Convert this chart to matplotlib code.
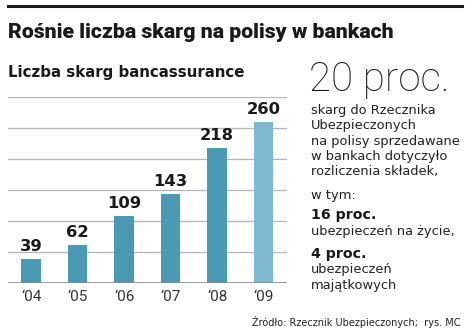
import numpy as np
import matplotlib
matplotlib.use("Agg")
import matplotlib.pyplot as plt
from matplotlib.lines import Line2D

years = ["‘04", "‘05", "‘06", "‘07", "‘08", "‘09"]
skargi = [39, 62, 109, 143, 218, 260]
bar_colors = ["#4a9ab4"] * 5 + ["#7db9cf"]

W, H = 468, 335
fig = plt.figure(figsize=(W / 100, H / 100), dpi=100)
fig.patch.set_facecolor("white")


def fx(x):
    return x / W


def fy(y):
    return 1 - y / H


def ptxt(x, y, s, **kw):
    fig.text(fx(x), fy(y), s, **kw)


rf = ["Roboto", "DejaVu Sans"]
df = ["DejaVu Sans"]

# top rule
fig.add_artist(Line2D([fx(8), fx(462)], [fy(6), fy(6)], color="#1a1a1a", lw=2.2))

ptxt(8, 33, "Rośnie liczba skarg na polisy w bankach", fontsize=15.3,
     fontweight="heavy", family=rf, va="center", ha="left", color="#1a1a1a")
ptxt(8, 72, "Liczba skarg bancassurance", fontsize=10.8, fontweight="bold",
     family=df, va="center", ha="left", color="#1a1a1a")

# bar chart
ax = fig.add_axes([fx(8), fy(283.3), fx(279), 186.6 / H])
x = np.arange(len(years))
ax.bar(x, skargi, width=0.42, color=bar_colors, zorder=3)
ax.set_xlim(-0.495, 5.505)
ax.set_ylim(0, 300)
for g in range(50, 301, 50):
    ax.axhline(g, color="#b5b5b5", lw=0.9, zorder=1)
ax.axhline(0, color="#8a8a8a", lw=1.2, zorder=4)
for xi, v in zip(x, skargi):
    ax.text(xi, v + 8, str(v), ha="center", va="bottom", fontsize=11.8,
            fontweight="heavy", family=df, color="#1a1a1a")
ax.set_xticks(x)
ax.set_xticklabels(years, fontsize=11, family=rf, color="#333333")
ax.tick_params(axis="x", length=0, pad=5)
ax.set_yticks([])
for s in ax.spines.values():
    s.set_visible(False)
ax.patch.set_alpha(0)

# right column
ptxt(309, 80, "20 proc.", fontsize=29, fontweight="light", family=rf,
     va="center", ha="left", color="#1a1a1a")
lines = ["skarg do Rzecznika", "Ubezpieczonych", "na polisy sprzedawane",
         "w bankach dotyczyło", "rozliczenia składek,"]
bs = 9.4
for i, s in enumerate(lines):
    ptxt(311, 110 + i * 15.5, s, fontsize=bs, family=df, va="center",
         ha="left", color="#222222")
ptxt(311, 195, "w tym:", fontsize=bs, family=df, va="center", ha="left", color="#222222")
ptxt(311, 215, "16 proc.", fontsize=10.2, fontweight="bold", family=df,
     va="center", ha="left", color="#1a1a1a")
ptxt(311, 232, "ubezpieczeń na życie,", fontsize=bs, family=df, va="center",
     ha="left", color="#222222")
ptxt(311, 254, "4 proc.", fontsize=10.2, fontweight="bold", family=df,
     va="center", ha="left", color="#1a1a1a")
ptxt(311, 269, "ubezpieczeń", fontsize=bs, family=df, va="center", ha="left", color="#222222")
ptxt(311, 285, "majątkowych", fontsize=bs, family=df, va="center", ha="left", color="#222222")

ptxt(461, 322, "Źródło: Rzecznik Ubezpieczonych;  rys. MC", fontsize=7.0,
     family=df, va="center", ha="right", color="#222222")

fig.savefig("out.png", dpi=100, facecolor="white")
